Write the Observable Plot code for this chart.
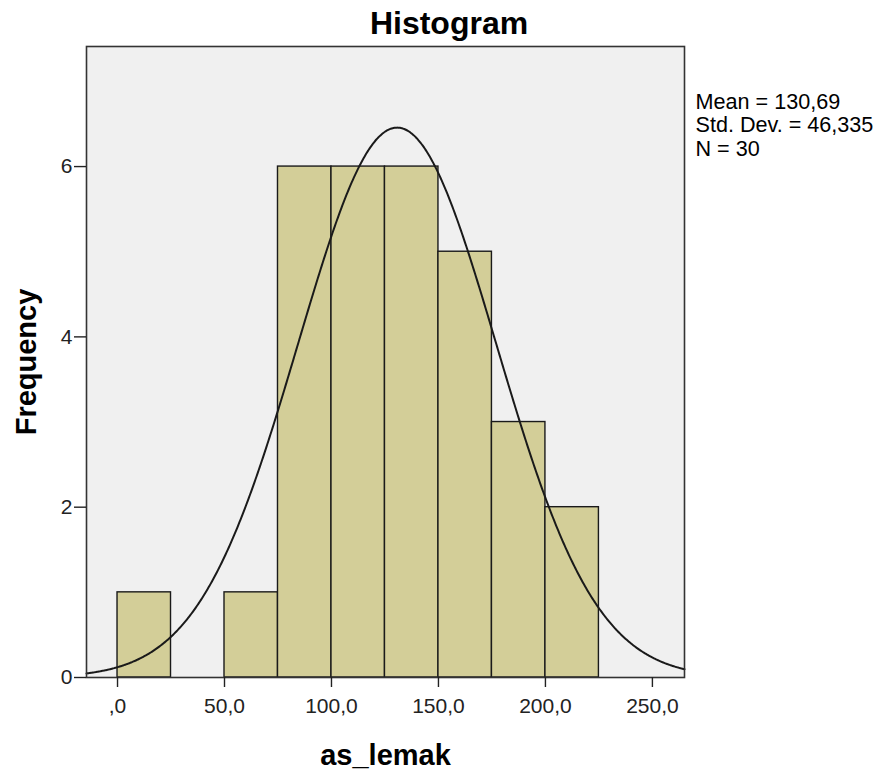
<!DOCTYPE html>
<html>
<head>
<meta charset="utf-8">
<script src="https://cdn.jsdelivr.net/npm/d3@7"></script>
<script src="https://cdn.jsdelivr.net/npm/@observablehq/plot@0.6"></script>
<style>
  body { margin: 0; background: #fff; font-family: "Liberation Sans", Arial, sans-serif; }
  #title { height: 44px; line-height: 46px; text-align: center; font-size: 32px; font-weight: bold; color: #000; padding-left: 18px; }
</style>
</head>
<body>
<div id="title">Histogram</div>
<div id="chart"></div>
<script>
// Histogram bins (as_lemak, bin width 25)
const binStart = [0, 25, 50, 75, 100, 125, 150, 175, 200];
const binEnd   = [25, 50, 75, 100, 125, 150, 175, 200, 225];
const counts   = [1, 0, 1, 6, 6, 6, 5, 3, 2];
// Summary statistics shown in the legend
const mean = 130.69;
const stdDev = 46.335;
const n = 30;
const xTicks = [0, 50, 100, 150, 200, 250];
const yTicks = [0, 2, 4, 6];

const bins = binStart.map((s, i) => ({x1: s, x2: binEnd[i], count: counts[i]})).filter(d => d.count > 0);

// Fitted normal curve (SPSS overlay) from mean, std. dev, N and bin width
const bw = 25;
const curve = [];
for (let x = -14.5; x <= 265; x += 0.5) {
  const z = (x - mean) / stdDev;
  curve.push({x, y: n * bw / (stdDev * Math.sqrt(2 * Math.PI)) * Math.exp(-0.5 * z * z)});
}

const fmt = d => d === 0 ? ",0" : d.toFixed(1).replace(".", ",");

const chart = Plot.plot({
  width: 880,
  height: 727,
  marginTop: 2,
  marginLeft: 86,
  marginRight: 196,
  marginBottom: 94,
  style: {fontFamily: "Liberation Sans, Arial, sans-serif", fontSize: "21px", color: "#222", background: "#fff"},
  x: {domain: [-14.5, 265]},
  y: {domain: [0, 7.41]},
  marks: [
    Plot.frame({fill: "#f0f0f0"}),
    Plot.rectY(bins, {x1: "x1", x2: "x2", y: "count", fill: "#d3ce98", stroke: "#1a1a1a", strokeWidth: 1.4}),
    Plot.line(curve, {x: "x", y: "y", stroke: "#1a1a1a", strokeWidth: 2, curve: "basis"}),
    Plot.frame({stroke: "#333", strokeWidth: 1.6}),
    Plot.axisX(xTicks, {tickSize: 10, tickPadding: 11, tickFormat: fmt, fontSize: 21, fill: "#222", stroke: "#222", strokeWidth: 1.4, label: null}),
    Plot.axisY(yTicks, {tickSize: 12, tickPadding: 2, tickFormat: d => String(d), fontSize: 21, fill: "#222", stroke: "#222", strokeWidth: 1.4, label: null}),
    Plot.text(["as_lemak"], {frameAnchor: "bottom", dy: 78, fontSize: 29, fontWeight: "bold", fill: "#000", lineAnchor: "middle"}),
    Plot.text(["Frequency"], {frameAnchor: "left", dx: -60, rotate: -90, textAnchor: "middle", lineAnchor: "middle", fontSize: 29, fontWeight: "bold", fill: "#000"}),
    Plot.text([`Mean = ${mean.toFixed(2).replace(".", ",")}\nStd. Dev. = ${stdDev.toFixed(3).replace(".", ",")}\nN = ${n}`],
      {frameAnchor: "top-right", dx: 11, dy: 46, textAnchor: "start", lineAnchor: "top", lineHeight: 1.08, fontSize: 21.6, fill: "#000"})
  ]
});
document.getElementById("chart").appendChild(chart);
</script>
</body>
</html>
